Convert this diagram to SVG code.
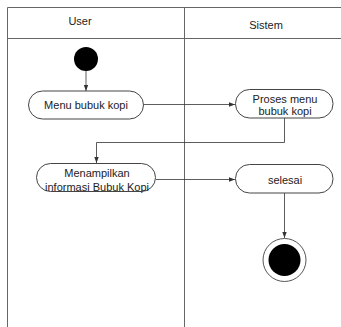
<svg xmlns="http://www.w3.org/2000/svg" width="341" height="327" viewBox="0 0 341 327">
  <style>
    .lane { fill: none; stroke: #666; stroke-width: 1; }
    .node { fill: #fff; stroke: #444; stroke-width: 1; }
    .edge { fill: none; stroke: #333; stroke-width: 0.8; }
    .lbl { font-family: "Liberation Sans", Arial, sans-serif; font-size: 11px; fill: #222; text-anchor: middle; }
  </style>
  <defs>
    <marker id="arr" viewBox="0 0 6 6" refX="6" refY="3" markerWidth="6" markerHeight="6" markerUnits="userSpaceOnUse" orient="auto">
      <path d="M0,0.8 L6,3 L0,5.2 Z" fill="#333"/>
    </marker>
  </defs>
  <rect width="341" height="327" fill="#fff"/>

  <!-- swimlanes -->
  <g id="lanes">
    <path class="lane" d="M7.5,327 V7.5 H341"/>
    <path class="lane" d="M7.5,38.5 H341"/>
    <path class="lane" d="M184.5,7.5 V327"/>
    <text class="lbl" x="80" y="25">User</text>
    <text class="lbl" x="266" y="29">Sistem</text>
  </g>

  <!-- connectors -->
  <g id="connectors">
    <path class="edge" d="M86,71 V91" marker-end="url(#arr)"/>
    <path class="edge" d="M144,104.5 H235" marker-end="url(#arr)"/>
    <path class="edge" d="M284.5,118 V142.5 H96.5 V163" marker-end="url(#arr)"/>
    <path class="edge" d="M156,179.5 H235" marker-end="url(#arr)"/>
    <path class="edge" d="M284.5,193 V238" marker-end="url(#arr)"/>
  </g>

  <g id="start">
    <circle cx="86" cy="59" r="12" fill="#000"/>
  </g>

  <g id="menu-bubuk-kopi">
    <rect class="node" x="28.5" y="91" width="115" height="28" rx="14"/>
    <text class="lbl" x="86" y="109">Menu bubuk kopi</text>
  </g>

  <g id="proses-menu">
    <rect class="node" x="235.5" y="89.5" width="97.5" height="28.5" rx="14"/>
    <text class="lbl" x="285" y="103">Proses menu</text>
    <text class="lbl" x="285" y="115">bubuk kopi</text>
  </g>

  <g id="menampilkan-informasi">
    <rect class="node" x="36.5" y="163.5" width="119" height="28" rx="14"/>
    <text class="lbl" x="97" y="177">Menampilkan</text>
    <text class="lbl" x="97" y="191">informasi Bubuk Kopi</text>
  </g>

  <g id="selesai">
    <rect class="node" x="235.5" y="164.5" width="97.5" height="28.5" rx="14"/>
    <text class="lbl" x="285" y="183.5">selesai</text>
  </g>

  <g id="end">
    <circle cx="284.5" cy="260" r="21.5" fill="#fff" stroke="#555" stroke-width="1"/>
    <circle cx="284.5" cy="260" r="16" fill="#000"/>
  </g>
</svg>
